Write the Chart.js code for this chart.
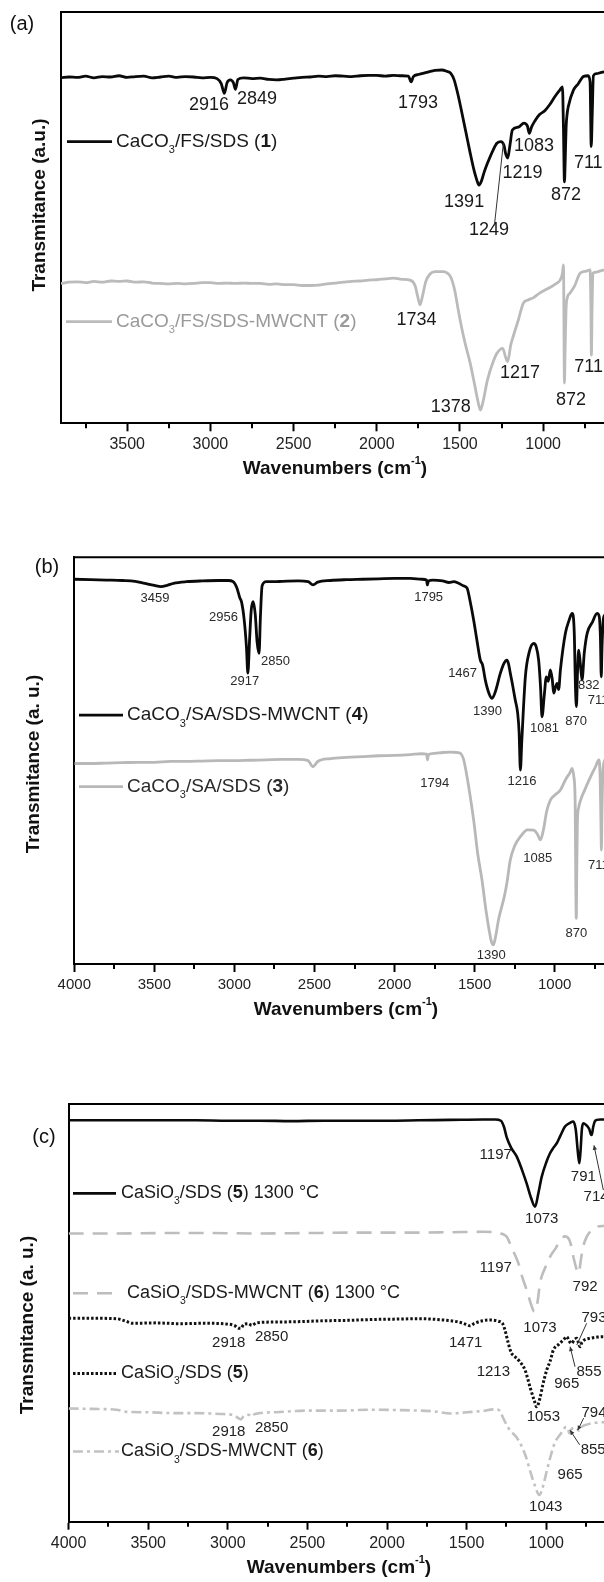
<!DOCTYPE html>
<html><head><meta charset="utf-8">
<script src="https://cdn.jsdelivr.net/npm/chart.js@4.4.1/dist/chart.umd.min.js"></script>
<style>
html,body{margin:0;padding:0;background:#fff;overflow:hidden;width:604px;height:1582px;position:relative;}
canvas{position:absolute;left:0;}
</style></head><body>
<canvas id="ca" width="700" height="530" style="top:0px"></canvas>
<canvas id="cb" width="700" height="530" style="top:530px"></canvas>
<canvas id="cc" width="700" height="522" style="top:1060px"></canvas>
<script>
// ---------------- DATA ----------------
// Panel (a)
const wnA1 = [3898,3850,3800,3750,3700,3650,3600,3550,3500,3450,3400,3350,3300,3250,3200,3150,3100,3050,3000,2960,2935,2916,2900,2880,2862,2849,2835,2800,2750,2700,2650,2600,2550,2500,2450,2400,2350,2300,2250,2200,2150,2100,2050,2000,1950,1900,1850,1810,1793,1780,1750,1700,1650,1610,1580,1555,1535,1509,1486,1463,1440,1416,1400,1386,1370,1355,1335,1300,1278,1254,1235,1225,1213,1200,1185,1150,1115,1095,1083,1070,1050,1023,990,960,930,900,884,878,872,868,862,855,849,818,790,758,730,718,711,705,698,680,650,620,600];
const tA1 = [84.0,84.2,84.1,84.4,84.0,84.3,84.2,84.5,84.1,84.3,84.4,84.0,84.2,84.4,84.1,84.3,84.2,84.0,84.1,83.8,82.6,80.2,82.8,83.5,82.8,81.2,83.6,84.0,83.8,83.9,83.6,83.5,83.7,83.9,84.1,84.2,84.4,84.3,84.5,84.4,84.3,84.5,84.6,84.6,84.4,84.6,84.5,84.4,83.0,84.3,84.8,85.3,85.8,85.9,85.6,85.1,83.5,79.4,75.0,70.5,66.0,61.6,59.3,57.9,59.0,61.0,63.2,66.5,68.1,68.5,67.5,65.5,64.5,67.5,71.3,72.0,73.0,72.3,70.5,72.0,73.5,75.0,76.0,77.5,79.4,81.0,81.8,72.0,58.7,63.0,72.0,75.5,77.0,81.0,82.5,84.3,84.5,83.0,67.3,75.0,84.5,85.0,85.3,85.5,85.5];
const wnA2 = [3898,3850,3800,3750,3700,3650,3600,3550,3500,3450,3400,3350,3300,3250,3200,3150,3100,3050,3000,2950,2900,2850,2800,2750,2700,2650,2600,2550,2500,2450,2400,2350,2300,2250,2200,2150,2100,2050,2000,1950,1900,1850,1800,1770,1755,1740,1725,1705,1680,1650,1600,1578,1555,1532,1510,1487,1463,1439,1410,1390,1377,1360,1335,1300,1278,1243,1225,1213,1195,1174,1150,1119,1090,1060,1019,960,920,898,884,878,872,868,862,855,838,810,778,740,718,713,710,706,700,688,660,630,600];
const tA2 = [34.0,34.3,34.4,34.2,34.5,34.3,34.6,34.5,34.6,34.3,34.4,34.1,34.0,33.9,34.0,33.9,34.0,34.2,34.2,34.0,34.1,34.0,34.1,34.0,34.0,33.8,33.9,33.7,33.7,33.5,33.5,33.6,33.9,34.1,34.3,34.5,34.6,34.8,34.9,35.1,35.3,35.0,34.8,33.5,31.0,28.8,31.0,34.5,36.3,36.9,36.9,36.6,35.5,32.4,27.5,22.7,18.5,14.7,9.0,5.0,3.2,5.5,10.5,15.0,17.0,18.2,16.0,15.0,19.0,21.9,25.0,29.2,30.0,30.5,31.7,33.0,34.0,34.8,36.5,38.5,9.8,18.0,28.0,30.5,31.7,33.5,36.5,37.0,37.3,28.0,16.6,28.0,36.5,36.7,37.0,37.3,37.3];
const ticksA = [3500,3000,2500,2000,1500,1000];
const minorA = [3750,3250,2750,2250,1750,1250,750];

// Panel (b)
const wnB4 = [4000,3900,3800,3700,3620,3560,3500,3459,3420,3380,3300,3200,3100,3040,3008,2985,2966,2956,2940,2925,2916,2905,2895,2883,2870,2858,2846,2838,2827,2800,2750,2700,2600,2540,2509,2480,2400,2300,2200,2100,2000,1900,1830,1800,1795,1788,1760,1700,1660,1630,1600,1570,1547,1527,1506,1485,1464,1450,1433,1410,1391,1370,1339,1318,1298,1272,1246,1231,1222,1214,1205,1183,1160,1131,1115,1100,1088,1079,1065,1052,1040,1027,1015,1006,995,985,975,964,933,910,891,878,870,864,857,850,840,829,815,797,765,735,722,714,709,704,695,680,660,630,600];
const tB4 = [94.6,94.5,94.4,94.3,94.1,93.6,93.1,92.8,93.1,93.6,94.0,94.2,94.3,94.3,94.0,92.5,90.0,89.1,85.0,78.0,71.5,80.0,87.0,89.1,86.0,79.0,76.4,85.0,93.0,94.0,94.0,94.1,94.2,94.0,93.2,93.9,94.3,94.5,94.6,94.7,94.8,94.8,94.6,94.4,93.2,94.2,94.4,94.2,93.8,94.0,93.6,93.0,92.4,89.0,84.6,79.5,74.7,73.5,69.8,66.5,65.3,67.0,71.5,73.8,74.7,70.5,64.9,61.7,57.0,47.7,55.0,70.6,76.5,78.8,78.0,74.7,68.0,60.8,66.0,70.6,69.5,72.3,70.0,66.6,68.0,69.0,67.5,72.3,81.3,84.5,86.2,82.0,68.0,63.3,72.0,77.2,74.0,69.8,76.5,81.3,84.0,86.2,85.5,80.0,70.6,78.0,85.0,86.0,86.5,86.5,86.5];
const wnB3 = [4000,3900,3800,3700,3600,3500,3400,3300,3200,3100,3000,2900,2800,2700,2600,2540,2509,2480,2400,2300,2200,2100,2000,1900,1830,1800,1794,1788,1750,1700,1650,1610,1588,1570,1547,1506,1480,1454,1430,1410,1395,1383,1370,1350,1315,1298,1277,1250,1214,1170,1131,1106,1089,1070,1050,1027,1000,964,930,905,891,880,872,868,865,862,858,850,838,810,776,745,724,716,711,708,704,698,680,650,620,600];
const tB3 = [49.3,49.3,49.4,49.5,49.6,49.6,49.8,49.8,49.9,50.0,50.0,50.1,50.2,50.3,50.3,50.0,48.5,49.8,50.5,50.8,51.0,51.2,51.3,51.5,51.7,51.6,50.2,51.5,51.8,52.0,52.1,52.0,51.8,50.5,46.0,35.4,27.0,20.7,13.5,8.5,5.5,4.7,6.5,11.0,16.5,20.0,25.6,29.0,31.3,33.0,32.9,31.8,30.5,33.0,37.5,40.3,41.5,42.8,45.5,47.0,48.1,46.0,40.0,20.0,11.2,22.0,35.0,38.5,40.3,43.0,46.0,48.5,50.2,46.0,35.0,28.0,38.0,48.0,50.5,51.0,51.0,51.0];
const ticksB = [4000,3500,3000,2500,2000,1500,1000];
const minorB = [3750,3250,2750,2250,1750,1250,750];

// Panel (c)
const wnC5h = [4000,3800,3600,3400,3200,3000,2800,2600,2400,2200,2000,1800,1600,1400,1320,1285,1265,1248,1220,1185,1150,1123,1095,1070,1050,1028,1000,976,955,934,910,882,850,830,815,800,792,784,776,767,750,730,720,714,705,695,683,660,630,600];
const tC5h = [96.1,96.1,96.1,96.1,96.1,96.0,96.0,95.9,96.0,96.0,96.0,96.1,96.2,96.3,96.3,96.0,94.5,92.0,89.5,87.4,84.0,81.0,77.5,75.4,78.5,82.6,86.0,88.2,89.5,90.6,92.5,94.6,95.5,95.8,94.0,88.0,85.8,89.0,94.0,95.4,95.0,94.0,92.8,92.6,94.5,95.8,96.2,96.3,96.3,96.3];
const wnC6h = [4000,3700,3400,3100,2800,2500,2200,1900,1600,1400,1300,1285,1265,1248,1210,1175,1150,1123,1095,1075,1055,1039,1010,976,940,910,880,850,830,808,795,785,770,746,715,683,650,600];
const tC6h = [69.0,69.0,69.1,69.1,69.0,69.1,69.2,69.2,69.3,69.4,69.2,69.0,68.7,68.2,65.0,61.9,58.5,55.5,52.0,50.3,52.5,57.1,60.5,63.4,65.5,67.5,68.3,67.0,63.5,60.3,59.5,62.0,65.5,68.2,69.8,70.6,70.8,70.8];
const wnC5 = [4000,3850,3700,3640,3600,3450,3300,3150,3000,2960,2930,2918,2900,2870,2850,2820,2700,2550,2400,2250,2100,1950,1800,1650,1550,1500,1479,1450,1400,1350,1300,1275,1259,1240,1220,1196,1170,1133,1100,1075,1060,1040,1020,997,975,955,920,890,871,855,840,825,808,795,788,775,750,725,680,637,600];
const tC5 = [48.7,48.7,48.6,48.0,47.5,47.6,47.4,47.5,47.3,47.0,46.3,46.3,47.2,47.4,47.0,47.6,47.8,47.9,48.1,48.2,48.4,48.5,48.6,48.3,47.8,47.2,46.9,47.5,48.1,48.3,48.0,47.5,45.9,43.0,40.5,39.5,38.5,36.3,32.0,29.0,27.5,29.5,33.0,36.3,38.5,41.1,42.5,43.6,44.3,43.2,42.7,43.5,43.9,42.5,41.9,43.0,43.7,43.9,44.2,44.3,44.3];
const wnC6 = [4000,3850,3700,3633,3500,3350,3200,3050,2960,2935,2918,2900,2870,2850,2830,2700,2500,2300,2100,1900,1700,1600,1500,1400,1330,1300,1285,1260,1230,1188,1160,1128,1100,1070,1043,1020,995,970,947,910,874,862,855,845,820,800,794,777,740,705,650,600];
const tC6 = [27.1,27.0,26.8,26.3,26.2,26.0,26.0,25.8,25.5,24.8,24.5,25.3,25.6,25.2,25.8,26.2,26.6,26.6,26.8,26.7,26.4,25.9,26.2,26.5,26.9,26.8,26.0,24.0,22.0,20.3,18.5,15.6,12.0,8.5,6.4,8.5,12.4,16.0,18.8,21.0,22.7,22.0,21.2,22.0,22.5,22.0,21.8,22.7,23.3,23.6,23.8,23.8];
const ticksC = [4000,3500,3000,2500,2000,1500,1000];
const minorC = [3750,3250,2750,2250,1750,1250,750];

// Peak annotations: [text, wavenumber, value]
const peaksA = [["2916",3009,77.4],["2849",2720,78.8],["1793",1752,77.8],["1391",1475,53.9],["1249",1325,47.0],["1219",1124,60.8],["1083",1055,67.3],["872",862,55.5],["711",729,63.2],["1734",1761,25.1],["1378",1555,4.0],["1217",1139,12.2],["872",832,5.7],["711",727,13.8]];
const peaksB = [["3459",3496,89.9],["2956",3068,85.3],["2917",2936,69.4],["2850",2743,74.3],["1795",1787,90.2],["1467",1575,71.5],["1390",1419,62.0],["1216",1204,44.8],["1081",1064,58.0],["870",866,59.6],["832",787,68.6],["711",729,64.9],["1794",1749,44.4],["1085",1106,26.0],["870",865,7.4],["711",727,24.3],["1390",1396,2.2]];
const peaksC = [["1197",1317,87.8],["1073",1028,72.6],["791",767,82.6],["714",687,77.8],["1197",1317,60.7],["792",756,56.3],["1073",1039,46.3],["2918",2994,42.7],["2850",2725,44.3],["1471",1506,42.7],["1213",1332,35.9],["965",871,33.1],["1053",1018,25.1],["793",700,48.7],["855",731,35.9],["2918",2994,21.5],["2850",2725,22.4],["1043",1003,3.6],["965",850,11.2],["855",705,17.2],["794",700,26.0]];
// Leader lines: [wn1, v1, wn2, v2, arrowhead]
const leadersA = [[1293,48.1,1239,68.1,0]];
const leadersC = [[641,79.4,700,90.1,1],[746,47.5,808,42.3,0],[819,37.1,850,41.9,1],[790,18.4,850,21.9,1],[765,24.8,802,21.9,1]];
// Series names (legend)
const namesA = ["CaCO_3/FS/SDS (*1*)","CaCO_3/FS/SDS-MWCNT (*2*)"];
const namesB = ["CaCO_3/SA/SDS-MWCNT (*4*)","CaCO_3/SA/SDS (*3*)"];
const namesC = ["CaSiO_3/SDS (*5*) 1300 °C","CaSiO_3/SDS-MWCNT (*6*) 1300 °C","CaSiO_3/SDS (*5*)","CaSiO_3/SDS-MWCNT (*6*)"];

// ---------------- DRAWING ----------------
const FONT = '"Liberation Sans", Arial, Helvetica, sans-serif';

function parseRich(s){
  const parts=[]; const re=/(_\w|\*[^*]+\*|\^[^)]+)/g; let last=0, m;
  while((m=re.exec(s))){
    if(m.index>last) parts.push({t:s.slice(last,m.index)});
    const tok=m[0];
    if(tok[0]==='_') parts.push({t:tok.slice(1),sub:true});
    else if(tok[0]==='*') parts.push({t:tok.slice(1,-1),b:true});
    else parts.push({t:tok.slice(1),sup:true});
    last=m.index+tok.length;
  }
  if(last<s.length) parts.push({t:s.slice(last)});
  return parts;
}
function richWidth(ctx,parts,size,bold){
  let w=0; parts.forEach(p=>{const fs=(p.sub||p.sup)?size*0.58:size; ctx.font=((bold||p.b)?'bold ':'')+fs+'px '+FONT; w+=ctx.measureText(p.t).width;}); return w;
}
function drawRich(ctx,s,x,y,size,color,bold,center){
  const parts=parseRich(s);
  let cx = center ? x - richWidth(ctx,parts,size,bold)/2 : x;
  ctx.textBaseline='middle'; ctx.textAlign='left'; ctx.fillStyle=color;
  parts.forEach(p=>{
    let fs=size, dy=0;
    if(p.sub){fs=size*0.58; dy=size*0.45;}
    if(p.sup){fs=size*0.58; dy=-size*0.42;}
    ctx.font=((bold||p.b)?'bold ':'')+fs+'px '+FONT;
    ctx.fillText(p.t,cx,y+dy);
    cx+=ctx.measureText(p.t).width;
  });
}

function makeDecor(d){
  return {id:'decor', afterDraw(chart){
    const {ctx, chartArea:a, scales:{x,y}} = chart;
    ctx.save();
    ctx.strokeStyle='#000'; ctx.lineWidth=2;
    ctx.beginPath(); ctx.moveTo(a.left,a.top); ctx.lineTo(a.right,a.top); ctx.lineTo(a.right,a.bottom); ctx.stroke();
    d.minor.forEach(v=>{const px=Math.round(x.getPixelForValue(v)); ctx.beginPath(); ctx.moveTo(px,a.bottom); ctx.lineTo(px,a.bottom+5); ctx.stroke();});
    ctx.fillStyle=d.peakColor; ctx.font=d.peakSize+'px '+FONT; ctx.textAlign='center'; ctx.textBaseline='middle';
    d.peaks.forEach(p=>ctx.fillText(p[0], x.getPixelForValue(p[1]), y.getPixelForValue(p[2])));
    ctx.lineWidth=1; ctx.strokeStyle='#333'; ctx.fillStyle='#333';
    d.leaders.forEach(l=>{
      const x1=x.getPixelForValue(l[0]), y1=y.getPixelForValue(l[1]), x2=x.getPixelForValue(l[2]), y2=y.getPixelForValue(l[3]);
      ctx.beginPath(); ctx.moveTo(x1,y1); ctx.lineTo(x2,y2); ctx.stroke();
      if(l[4]){const ang=Math.atan2(y2-y1,x2-x1), L=5;
        ctx.beginPath(); ctx.moveTo(x2,y2); ctx.lineTo(x2-L*Math.cos(ang-0.45),y2-L*Math.sin(ang-0.45)); ctx.lineTo(x2-L*Math.cos(ang+0.45),y2-L*Math.sin(ang+0.45)); ctx.closePath(); ctx.fill();}
    });
    d.legend.forEach(g=>{
      const ds=chart.data.datasets[g.ds]; const yy=y.getPixelForValue(g.v);
      ctx.strokeStyle=ds.borderColor; ctx.lineWidth=ds.borderWidth; ctx.setLineDash(ds.borderDash||[]);
      ctx.beginPath(); ctx.moveTo(g.x1,yy); ctx.lineTo(g.x2,yy); ctx.stroke(); ctx.setLineDash([]);
      drawRich(ctx,d.names[g.ds],g.tx,yy,d.legSize,g.tc,false,false);
    });
    ctx.fillStyle='#111'; ctx.font='20px '+FONT; ctx.textAlign='center'; ctx.textBaseline='middle';
    ctx.fillText(d.letter[0],d.letter[1],d.letter[2]);
    drawRich(ctx,'Wavenumbers (cm^-1)',d.xt[0],d.xt[1],19,'#111',true,true);
    ctx.save(); ctx.translate(d.yt[0],d.yt[1]); ctx.rotate(-Math.PI/2);
    drawRich(ctx,d.ytText,0,0,19,'#111',true,true); ctx.restore();
    ctx.restore();
  }};
}

function makeChart(id,c){
  return new Chart(document.getElementById(id),{
    type:'line',
    data:{datasets:c.series.map(s=>({data:s.wn.map((w,i)=>({x:w,y:s.t[i]})),borderColor:s.color,borderWidth:s.w,borderDash:s.dash||[],pointRadius:0,fill:false,cubicInterpolationMode:'monotone',borderJoinStyle:'round'}))},
    options:{responsive:false,animation:false,devicePixelRatio:1,
      layout:{padding:{top:c.area[0],right:c.W-c.area[3],left:0,bottom:0}},
      plugins:{legend:{display:false},tooltip:{enabled:false}},
      scales:{
        x:{type:'linear',reverse:true,min:c.xmin,max:c.xmax,
          afterBuildTicks:sc=>{sc.ticks=c.ticks.map(v=>({value:v}));},
          afterFit:sc=>{sc.height=c.H-c.area[1];},
          grid:{display:true,drawOnChartArea:false,drawTicks:true,tickLength:8,tickColor:'#000',tickWidth:2},
          border:{display:true,color:'#000',width:2},
          ticks:{color:'#222',font:{family:FONT,size:c.tickSize},padding:4,maxRotation:0,autoSkip:false,callback:v=>String(v)}},
        y:{type:'linear',min:0,max:100,
          afterFit:sc=>{sc.width=c.area[2];},
          grid:{display:false},border:{display:true,color:'#000',width:2},ticks:{display:false}}
      }},
    plugins:[makeDecor(c.decor)]
  });
}

makeChart('ca',{W:700,H:530,area:[12,423.3,61,609.7],xmin:600,xmax:3898,ticks:ticksA,tickSize:16,
  series:[{wn:wnA1,t:tA1,color:'#0a0a0a',w:2.8},{wn:wnA2,t:tA2,color:'#bbbbbb',w:2.8}],
  decor:{minor:minorA,peaks:peaksA,peakSize:18,peakColor:'#1a1a1a',leaders:leadersA,names:namesA,legSize:19,
    legend:[{ds:0,v:68.5,x1:67,x2:112,tx:116,tc:'#1a1a1a'},{ds:1,v:24.7,x1:66,x2:112,tx:116,tc:'#9a9a9a'}],
    letter:['(a)',22,24],xt:[335,469],yt:[39.5,205],ytText:'Transmitance (a.u.)'}});

makeChart('cb',{W:700,H:530,area:[27.3,434,74.3,618.7],xmin:600,xmax:4000,ticks:ticksB,tickSize:15,
  series:[{wn:wnB4,t:tB4,color:'#0a0a0a',w:2.8},{wn:wnB3,t:tB3,color:'#b8b8b8',w:2.8}],
  decor:{minor:minorB,peaks:peaksB,peakSize:13,peakColor:'#2a2a2a',leaders:[],names:namesB,legSize:19,
    legend:[{ds:0,v:61.2,x1:79,x2:123,tx:127,tc:'#1a1a1a'},{ds:1,v:43.6,x1:79,x2:123,tx:127,tc:'#2a2a2a'}],
    letter:['(b)',47,37],xt:[346,480],yt:[33.7,234],ytText:'Transmitance (a. u.)'}});

makeChart('cc',{W:700,H:522,area:[44,461.7,68.6,609.9],xmin:600,xmax:4000,ticks:ticksC,tickSize:16,
  series:[{wn:wnC5h,t:tC5h,color:'#0a0a0a',w:2.6},{wn:wnC6h,t:tC6h,color:'#bdbdbd',w:2.6,dash:[15,9]},{wn:wnC5,t:tC5,color:'#111111',w:3,dash:[2.5,2]},{wn:wnC6,t:tC6,color:'#c2c2c2',w:2.6,dash:[10,4,3,4]}],
  decor:{minor:minorC,peaks:peaksC,peakSize:15,peakColor:'#222',leaders:leadersC,names:namesC,legSize:18,
    legend:[{ds:0,v:78.6,x1:73,x2:116,tx:121,tc:'#1a1a1a'},{ds:1,v:54.7,x1:73,x2:112,tx:127,tc:'#1a1a1a'},{ds:2,v:35.5,x1:73,x2:116,tx:121,tc:'#1a1a1a'},{ds:3,v:16.8,x1:73,x2:119,tx:121,tc:'#1a1a1a'}],
    letter:['(c)',44,77],xt:[339,508],yt:[28,265],ytText:'Transmitance (a. u.)'}});
</script>
</body></html>
